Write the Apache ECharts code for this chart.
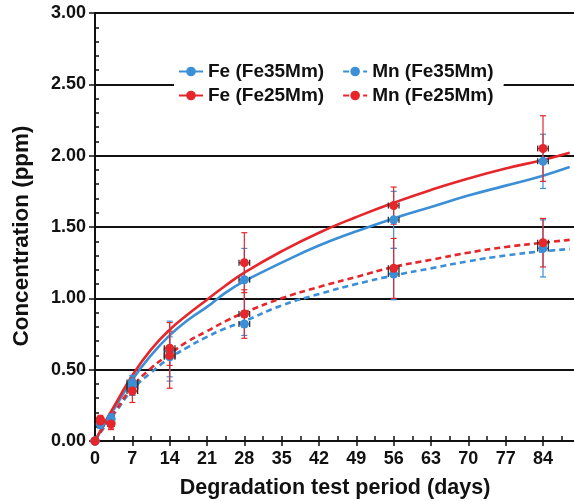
<!DOCTYPE html>
<html><head><meta charset="utf-8">
<script src="https://cdn.jsdelivr.net/npm/echarts@6/dist/echarts.min.js"></script>
<style>html,body{margin:0;padding:0;background:#fff}#c{width:574px;height:501px}</style>
</head><body><div id="c"></div>
<script>
// measured points
const days   = [0, 1, 3, 7, 14, 28, 56, 84];
const dayErr = [0, 0.6, 0.6, 1, 1, 1, 1, 1];
const fe35    = [0, 0.12, 0.16, 0.41, 0.63, 1.13, 1.55, 1.96];
const fe35Err = [0, 0.03, 0.03, 0.04, 0.21, 0.22, 0.20, 0.19];
const fe25    = [0, 0.15, 0.13, 0.38, 0.65, 1.25, 1.65, 2.05];
const fe25Err = [0, 0.03, 0.04, 0.06, 0.12, 0.21, 0.13, 0.23];
const mn35    = [0, 0.12, 0.15, 0.39, 0.59, 0.82, 1.17, 1.35];
const mn35Err = [0, 0.03, 0.03, 0.07, 0.14, 0.08, 0.18, 0.20];
const mn25    = [0, 0.14, 0.12, 0.35, 0.60, 0.89, 1.21, 1.39];
const mn25Err = [0, 0.03, 0.04, 0.08, 0.23, 0.17, 0.21, 0.17];
// fitted curves
const curveDays = [0, 2, 4, 7, 10.5, 14, 17.5, 21, 24.5, 28, 35, 42, 49, 56, 63, 70, 77, 84, 89];
const fe35Fit = [0, 0.13, 0.25, 0.43, 0.60, 0.74, 0.85, 0.94, 1.04, 1.12, 1.25, 1.37, 1.47, 1.56, 1.64, 1.72, 1.79, 1.86, 1.92];
const fe25Fit = [0, 0.14, 0.27, 0.46, 0.64, 0.78, 0.89, 0.99, 1.09, 1.18, 1.33, 1.46, 1.57, 1.67, 1.76, 1.84, 1.91, 1.97, 2.02];
const mn35Fit = [0, 0.11, 0.21, 0.36, 0.48, 0.58, 0.66, 0.73, 0.79, 0.84, 0.95, 1.03, 1.10, 1.16, 1.21, 1.26, 1.30, 1.33, 1.345];
const mn25Fit = [0, 0.12, 0.22, 0.38, 0.51, 0.61, 0.70, 0.77, 0.84, 0.90, 1.00, 1.08, 1.15, 1.22, 1.27, 1.32, 1.36, 1.39, 1.41];
const names = ['Fe (Fe35Mm)', 'Mn (Fe35Mm)', 'Fe (Fe25Mm)', 'Mn (Fe25Mm)'];
const xTitle = 'Degradation test period (days)';
const yTitle = 'Concentration (ppm)';

const BLUE = '#3a8fd6', RED = '#e5262b';
const FONT = 'Liberation Sans, Arial, sans-serif';
const sets = [
  {name: names[0], fit: fe35Fit, v: fe35, e: fe35Err, color: BLUE, dash: false},
  {name: names[2], fit: fe25Fit, v: fe25, e: fe25Err, color: RED, dash: false},
  {name: names[1], fit: mn35Fit, v: mn35, e: mn35Err, color: BLUE, dash: true},
  {name: names[3], fit: mn25Fit, v: mn25, e: mn25Err, color: RED, dash: true}
];

function errRender(color) {
  return function (params, api) {
    const x = api.value(0), y = api.value(1), e = api.value(2), ex = api.value(3);
    const ch = [];
    const st = {stroke: color, lineWidth: 1.2};
    if (e > 0) {
      const t = api.coord([x, y + e]), b = api.coord([x, y - e]);
      ch.push({type: 'line', shape: {x1: t[0], y1: t[1], x2: b[0], y2: b[1]}, style: st});
      ch.push({type: 'line', shape: {x1: t[0] - 3, y1: t[1], x2: t[0] + 3, y2: t[1]}, style: st});
      ch.push({type: 'line', shape: {x1: b[0] - 3, y1: b[1], x2: b[0] + 3, y2: b[1]}, style: st});
    }
    if (ex > 0) {
      const l = api.coord([x - ex, y]), r = api.coord([x + ex, y]);
      const hs = {stroke: '#333', lineWidth: 1.3};
      ch.push({type: 'line', shape: {x1: l[0], y1: l[1], x2: r[0], y2: r[1]}, style: hs});
      ch.push({type: 'line', shape: {x1: l[0], y1: l[1] - 3, x2: l[0], y2: l[1] + 3}, style: hs});
      ch.push({type: 'line', shape: {x1: r[0], y1: r[1] - 3, x2: r[0], y2: r[1] + 3}, style: hs});
    }
    return {type: 'group', children: ch};
  };
}

const series = [];
sets.forEach(s => {
  series.push({
    name: s.name, type: 'line', smooth: 0.5,
    showSymbol: false, symbol: 'circle', symbolSize: 6,
    itemStyle: {color: s.color},
    lineStyle: {color: s.color, width: 2.6, type: s.dash ? [6, 4] : 'solid'},
    data: curveDays.map((d, i) => [d, s.fit[i]]), z: 3, silent: true
  });
});
sets.forEach(s => {
  series.push({
    name: s.name, type: 'custom', renderItem: errRender(s.color),
    data: days.map((d, i) => [d, s.v[i], s.e[i], dayErr[i]]), z: 4, silent: true
  });
});
sets.forEach(s => {
  series.push({
    name: s.name, type: 'scatter', symbol: 'circle', symbolSize: 9,
    itemStyle: {color: s.color, opacity: 1},
    data: days.map((d, i) => [d, s.v[i]]), z: 5
  });
});

const legendBase = {
  left: 174, itemGap: 18, backgroundColor: '#fff',
  itemWidth: 24, itemHeight: 12,
  textStyle: {fontSize: 19, fontWeight: 'bold', color: '#111', fontFamily: FONT}
};
const axLine = {lineStyle: {color: '#111', width: 2}};
const chart = echarts.init(document.getElementById('c'));
chart.setOption({
  animation: false,
  backgroundColor: '#fff',
  grid: {left: 95, top: 13, width: 480, height: 428, outerBoundsMode: 'none', containLabel: false},
  graphic: [{
    type: 'text', x: 22, y: 236, rotation: Math.PI / 2, z: 10,
    style: {text: yTitle, fontSize: 22.5, fontWeight: 'bold', fill: '#111', fontFamily: FONT,
            align: 'center', verticalAlign: 'middle'}
  }],
  legend: [
    Object.assign({}, legendBase, {data: [names[0], names[1]], top: 56, padding: [6, 10, 4, 4]}),
    Object.assign({}, legendBase, {data: [names[2], names[3]], top: 83, padding: [3, 10, 7, 4]})
  ],
  xAxis: [
    {type: 'value', min: 0, max: 90, interval: 7,
     axisLine: axLine,
     axisTick: {length: 5, lineStyle: {color: '#111', width: 1.5}},
     axisLabel: {fontSize: 18, fontWeight: 'bold', color: '#111', fontFamily: FONT, margin: 9, showMaxLabel: false},
     splitLine: {show: false},
     name: xTitle, nameLocation: 'middle', nameGap: 36,
     nameTextStyle: {fontSize: 21.5, fontWeight: 'bold', color: '#111', fontFamily: FONT}},
    {type: 'value', min: 0, max: 90, interval: 7, position: 'bottom',
     axisLine: {show: false},
     axisTick: {inside: true, length: 5, lineStyle: {color: '#111', width: 1.5}},
     minorTick: {show: true, splitNumber: 2, length: 5, lineStyle: {color: '#111', width: 1.5}},
     axisLabel: {show: false}, splitLine: {show: false}}
  ],
  yAxis: [
    {type: 'value', min: 0, max: 3, interval: 0.5,
     axisLine: axLine,
     axisTick: {length: 6, lineStyle: {color: '#111', width: 1.5}},
     axisLabel: {fontSize: 18, fontWeight: 'bold', color: '#111', fontFamily: FONT, margin: 9,
                 formatter: v => v.toFixed(2)},
     splitLine: {show: true, lineStyle: {color: '#111', width: 1.8}}},
    {type: 'value', min: 0, max: 3, interval: 0.5, position: 'left',
     axisLine: {show: false},
     axisTick: {inside: true, length: 4, lineStyle: {color: '#111', width: 1.5}},
     minorTick: {show: true, splitNumber: 5, length: 4, lineStyle: {color: '#111', width: 1.5}},
     axisLabel: {show: false}, splitLine: {show: false}}
  ],
  series: series
});
</script></body></html>
